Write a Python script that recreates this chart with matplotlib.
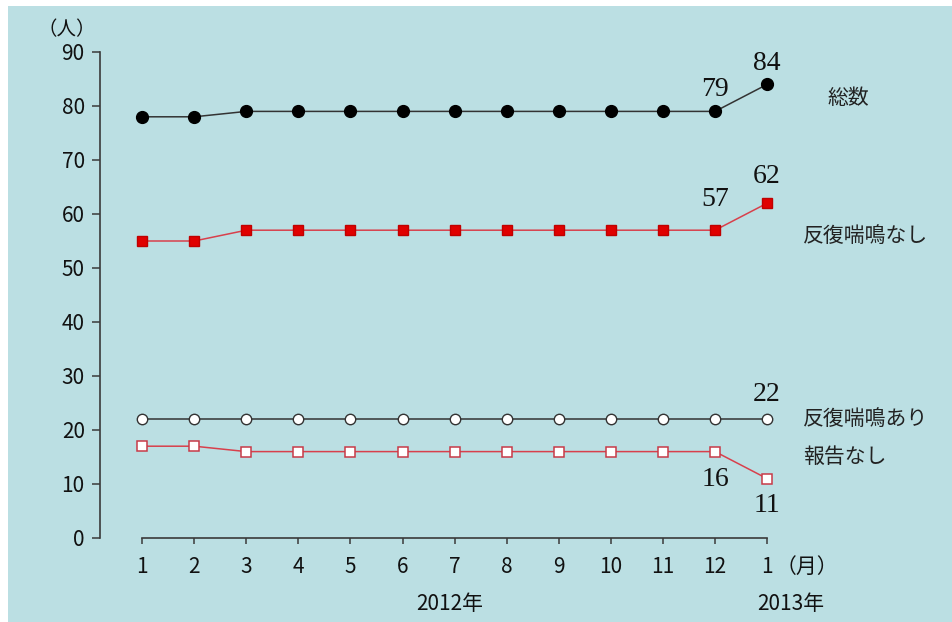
import matplotlib
matplotlib.use("Agg")
import matplotlib.pyplot as plt
from matplotlib.patches import Rectangle
import matplotlib.transforms as mtransforms

plt.rcParams['font.family'] = ['Noto Sans CJK JP', 'DejaVu Sans']

# Monthly counts, Jan 2012 .. Jan 2013
months = ['1', '2', '3', '4', '5', '6', '7', '8', '9', '10', '11', '12', '1']
total = [78, 78, 79, 79, 79, 79, 79, 79, 79, 79, 79, 79, 84]
no_wheeze = [55, 55, 57, 57, 57, 57, 57, 57, 57, 57, 57, 57, 62]
wheeze = [22, 22, 22, 22, 22, 22, 22, 22, 22, 22, 22, 22, 22]
no_report = [17, 17, 16, 16, 16, 16, 16, 16, 16, 16, 16, 16, 11]

series_names = ['総数', '反復喘鳴なし', '反復喘鳴あり', '報告なし']
y_ticks = [0, 10, 20, 30, 40, 50, 60, 70, 80, 90]

BG = '#bbdfe3'
W, H = 952, 622
fig = plt.figure(figsize=(W / 100, H / 100), dpi=100, facecolor='white')
fig.patches.append(Rectangle((8 / W, 0), 1, 1 - 6 / H, transform=fig.transFigure,
                             facecolor=BG, edgecolor='none', zorder=-10))

ax = fig.add_axes([100 / W, 84 / H, 852 / W, 486 / H])
ax.set_facecolor('none')
x = list(range(len(months)))

ax.plot(x, total, color='#333333', lw=1.1, marker='o', ms=8.5,
        mfc='black', mec='black', zorder=4)
ax.plot(x, no_wheeze, color='#d8404c', lw=1.1, marker='s', ms=6.8,
        mfc='#e00000', mec='#c00000', zorder=4)
ax.plot(x, wheeze, color='#333333', lw=1.1, marker='o', ms=7.5,
        mfc='white', mec='#333333', mew=1.0, zorder=4)
ax.plot(x, no_report, color='#d8404c', lw=1.1, marker='s', ms=7.2,
        mfc='white', mec='#c83a48', mew=1.1, zorder=4)

ax.set_xlim(-0.81, 15.55)
ax.set_ylim(0, 90)
ax.set_yticks(y_ticks)
ax.set_xticks(x)
ax.set_xticklabels(months)
for s in ['top', 'right']:
    ax.spines[s].set_visible(False)
ax.spines['bottom'].set_bounds(0, 12)
for s in ['left', 'bottom']:
    ax.spines[s].set_color('#3a3a3a')
    ax.spines[s].set_linewidth(1.2)
ax.tick_params(axis='y', direction='out', length=6, width=1.1, color='#3a3a3a',
               labelsize=15, pad=5, labelcolor='#111111')
ax.tick_params(axis='x', direction='out', length=4, width=1.1, color='#3a3a3a',
               labelsize=15, pad=9, labelcolor='#111111')

# value labels at the last two months
serif = 'Liberation Serif'
def vlabel(xi, yi, txt, dy):
    ax.annotate(txt, xy=(xi, yi), xytext=(0, dy), textcoords='offset pixels',
                ha='center', va='center', fontsize=20, family=serif, color='#111111')

vlabel(11, total[11], str(total[11]), 22)
vlabel(12, total[12], str(total[12]), 21)
vlabel(11, no_wheeze[11], str(no_wheeze[11]), 31)
vlabel(12, no_wheeze[12], str(no_wheeze[12]), 27)
vlabel(12, wheeze[12], str(wheeze[12]), 25)
vlabel(11, no_report[11], str(no_report[11]), -28)
vlabel(12, no_report[12], str(no_report[12]), -27)

# series names at the right end
def slabel(yi, txt, dx, dy):
    ax.annotate(txt, xy=(12, yi), xytext=(dx, dy), textcoords='offset pixels',
                ha='left', va='center', fontsize=15, color='#222222')

slabel(total[11], series_names[0], 60, 13)
slabel(no_wheeze[11], series_names[1], 36, -6)
slabel(wheeze[11], series_names[2], 36, 0)
slabel(no_report[11], series_names[3], 36, -5)

# unit and year captions
fig.text(67 / W, 1 - 30 / H, '（人）', ha='center', va='center', fontsize=14, color='#111111')
trans = mtransforms.blended_transform_factory(ax.transData, fig.transFigure)
ax.annotate('（月）', xy=(12, 1 - 567 / H), xycoords=trans, xytext=(8, 0),
            textcoords='offset pixels', ha='left', va='center',
            fontsize=15, color='#111111')
ax.text(5.9, 1 - 604 / H, '2012年', transform=trans, ha='center', va='center',
        fontsize=15, color='#111111')
ax.text(12.45, 1 - 604 / H, '2013年', transform=trans, ha='center', va='center',
        fontsize=15, color='#111111')

fig.savefig('out.png', dpi=100, facecolor='white')
